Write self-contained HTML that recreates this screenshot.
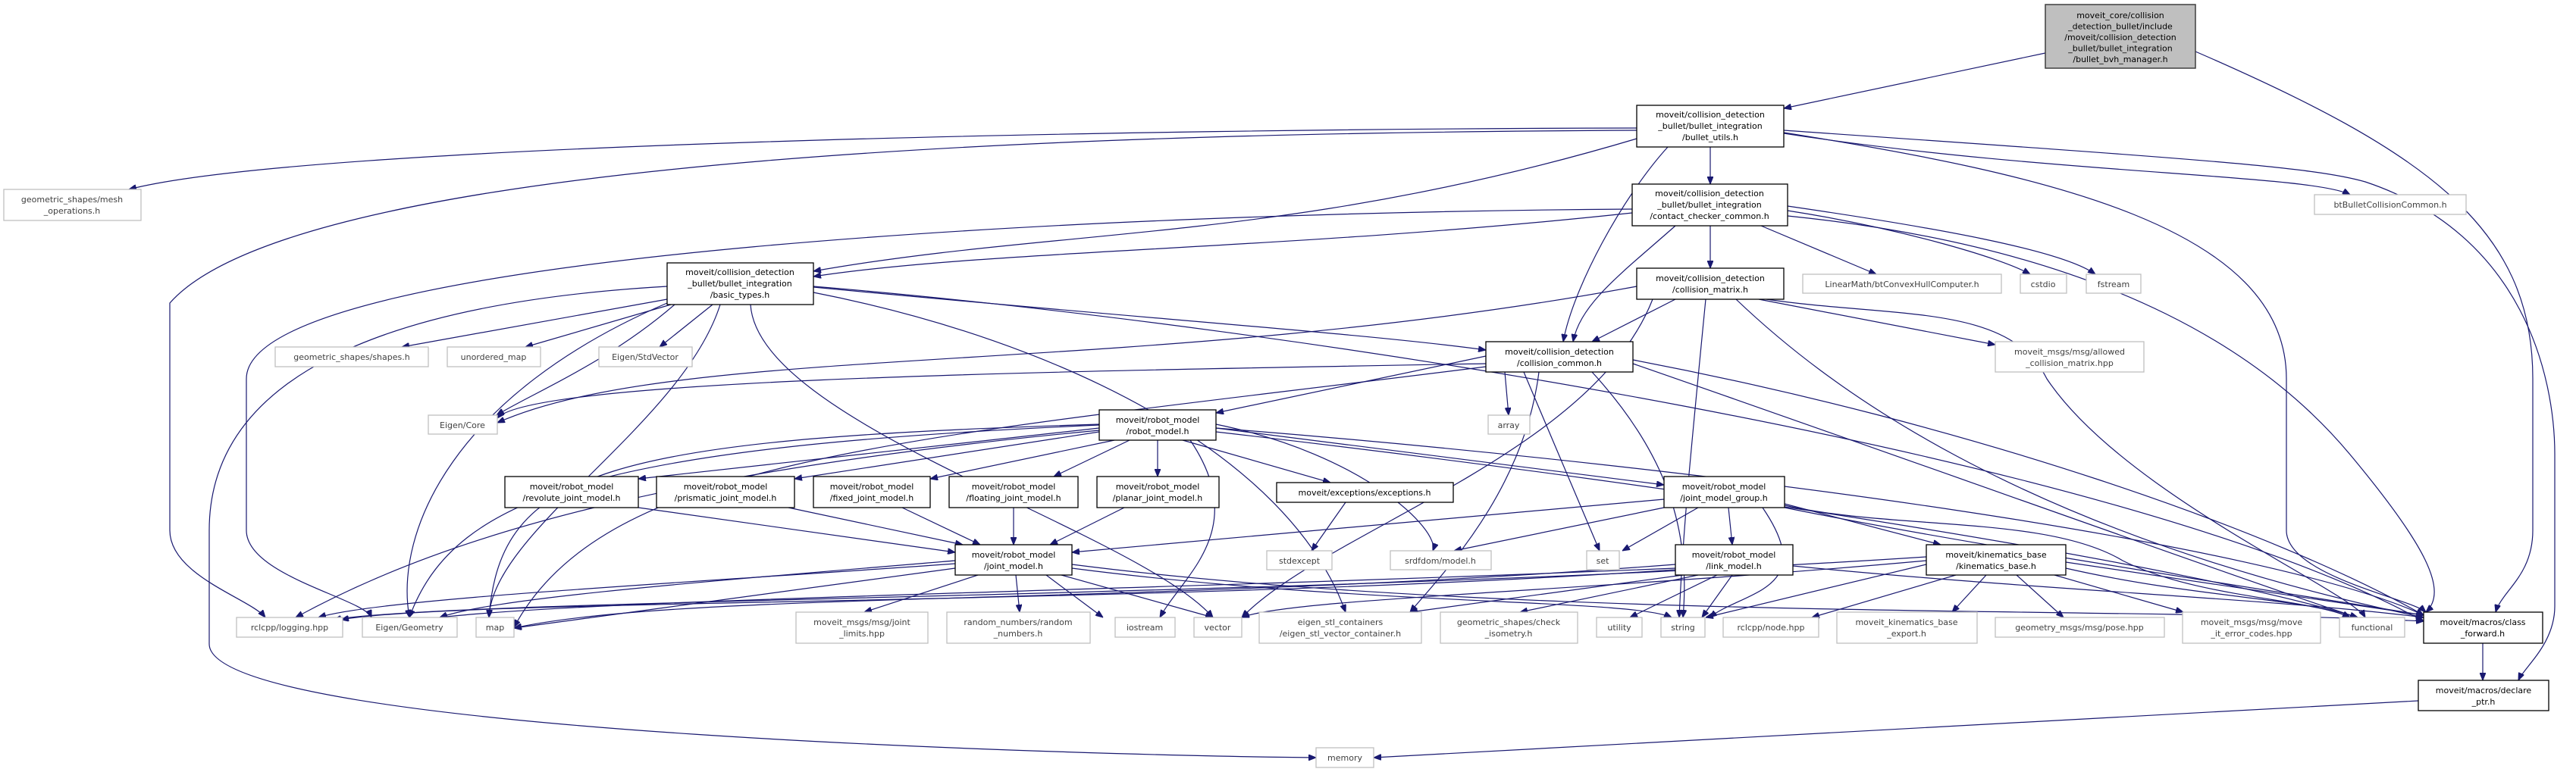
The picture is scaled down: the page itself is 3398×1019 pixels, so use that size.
<!DOCTYPE html>
<html><head><meta charset="utf-8"><style>
html,body{margin:0;padding:0;background:#fff;}
svg{display:block;}
text{font-family:"DejaVu Sans","Liberation Sans",sans-serif;font-size:11px;text-anchor:middle;}
.d rect{fill:#fff;stroke:#000;stroke-width:1.3;}
.e rect{fill:#fff;stroke:#bfbfbf;stroke-width:1.3;}
.e text{fill:#3f3f3f;}
.g rect{fill:#bfbfbf;stroke:#3f3f3f;stroke-width:1.5;}
path{fill:none;stroke:#191970;stroke-width:1.2;}
</style></head><body>
<svg width="3398" height="1019" viewBox="0 0 3398 1019" xmlns="http://www.w3.org/2000/svg">
<defs><marker id="a" viewBox="0 0 10 8" refX="10" refY="4" markerWidth="10" markerHeight="8" markerUnits="userSpaceOnUse" orient="auto"><path d="M0,0 L10,4 L0,8 z" style="fill:#191970;stroke:#191970;stroke-width:1"/></marker></defs>
<g marker-end="url(#a)">
<path d="M2698,70 L2353,143"/>
<path d="M2896,68 C3200,200 3341,300 3341,500 L3341,700 C3341,760 3300,780 3292,808"/>
<path d="M2353,172 C2900,210 3050,220 3120,240 C3330,310 3370,500 3370,600 L3370,800 C3370,850 3330,880 3322,898"/>
<path d="M2353,175 C2700,230 3016,300 3016,500 L3016,700 C3016,760 3180,790 3200,808"/>
<path d="M2353,176 C2700,230 3050,230 3100,257"/>
<path d="M2200,194 C2140,260 2075,380 2062,451"/>
<path d="M2256,194 L2256,243"/>
<path d="M2159,183 C1700,320 1400,300 1073,358"/>
<path d="M2159,169 C1500,170 400,190 170,250"/>
<path d="M2159,172 C1500,175 400,200 224,400 L224,700 C224,760 330,790 350,815"/>
<path d="M2153,276 C1500,280 325,330 325,500 L325,700 C325,760 480,790 490,815"/>
<path d="M2153,281 C1700,330 1300,330 1073,365"/>
<path d="M2210,298 C2140,360 2085,400 2075,451"/>
<path d="M2256,298 L2256,354"/>
<path d="M2323,298 L2475,362"/>
<path d="M2358,278 C2500,300 2640,340 2678,362"/>
<path d="M2358,272 C2550,300 2720,330 2764,362"/>
<path d="M2358,285 C2800,330 3000,480 3100,600 C3200,720 3230,780 3200,808"/>
<path d="M880,395 L530,458"/>
<path d="M885,402 L693,458"/>
<path d="M940,402 L870,458"/>
<path d="M880,378 C500,400 276,500 276,700 L276,850 C276,970 1500,998 1736,1000"/>
<path d="M890,402 C800,480 700,520 655,548"/>
<path d="M880,400 C600,520 520,700 540,815"/>
<path d="M950,402 C900,560 650,700 645,815"/>
<path d="M990,402 C1000,560 1500,700 1600,815"/>
<path d="M1073,379 C1500,420 1800,440 1960,462"/>
<path d="M1073,378 C1700,430 2800,600 3197,820"/>
<path d="M1073,386 C1400,450 1700,600 1775,808"/>
<path d="M2210,395 L2100,451"/>
<path d="M2159,378 C1500,500 900,450 656,558"/>
<path d="M2250,395 C2230,600 2220,700 2215,815"/>
<path d="M2180,395 C2100,600 1750,700 1638,815"/>
<path d="M2320,395 L2632,455"/>
<path d="M2330,395 C2500,420 2650,400 2700,500 C2800,650 3100,780 3120,815"/>
<path d="M2290,395 C2400,500 2650,700 3197,815"/>
<path d="M1960,470 L1604,545"/>
<path d="M1960,480 C1400,490 700,500 656,552"/>
<path d="M1985,491 L1990,548"/>
<path d="M2010,491 L2110,727"/>
<path d="M2100,491 C2200,600 2230,700 2220,815"/>
<path d="M1960,484 C1200,580 800,600 678,828"/>
<path d="M2154,480 C2500,600 3000,780 3110,815"/>
<path d="M2030,491 C2010,650 1900,760 1860,808"/>
<path d="M2154,475 C2600,560 3000,700 3197,812"/>
<path d="M1450,565 L842,632"/>
<path d="M1450,570 L1048,632"/>
<path d="M1470,581 L1227,632"/>
<path d="M1490,581 L1390,629"/>
<path d="M1527,581 L1527,629"/>
<path d="M1560,581 L1755,637"/>
<path d="M1604,565 L2195,640"/>
<path d="M1604,560 C1800,600 1900,700 1890,727"/>
<path d="M1570,581 C1650,700 1560,760 1530,815"/>
<path d="M1450,568 C900,620 600,700 390,815"/>
<path d="M1450,561 C800,590 600,650 540,815"/>
<path d="M1450,560 C800,580 660,620 645,815"/>
<path d="M1604,565 C2300,620 3000,720 3197,812"/>
<path d="M1604,570 C2300,650 2900,750 3110,815"/>
<path d="M842,670 L1260,729"/>
<path d="M1040,670 L1270,719"/>
<path d="M1190,670 L1293,719"/>
<path d="M1337,670 L1337,719"/>
<path d="M1483,670 L1385,719"/>
<path d="M1775,663 L1730,727"/>
<path d="M2195,659 L1414,729"/>
<path d="M2195,670 L1918,727"/>
<path d="M2240,670 L2140,727"/>
<path d="M2280,670 L2285,719"/>
<path d="M2354,665 L2560,719"/>
<path d="M2325,670 C2400,780 2300,780 2255,815"/>
<path d="M2354,670 C2600,720 3000,780 3197,812"/>
<path d="M2354,667 C2500,700 2700,680 2800,740 C2900,790 3050,790 3100,815"/>
<path d="M1260,744 C900,770 500,790 420,815"/>
<path d="M1260,740 C900,770 650,790 580,815"/>
<path d="M1260,750 L678,829"/>
<path d="M1290,759 L1140,808"/>
<path d="M1340,759 L1345,808"/>
<path d="M1380,759 L1455,815"/>
<path d="M1400,759 L1600,815"/>
<path d="M1414,745 C2000,820 2800,800 3197,820"/>
<path d="M1414,750 C1800,800 2150,790 2205,815"/>
<path d="M2210,745 C1500,800 900,780 678,829"/>
<path d="M2210,750 C1500,780 800,790 580,815"/>
<path d="M2210,752 C1500,800 600,790 450,818"/>
<path d="M2220,759 L1860,808"/>
<path d="M2240,759 L2005,808"/>
<path d="M2265,759 L2150,815"/>
<path d="M2285,759 L2245,815"/>
<path d="M2365,747 C2700,780 3000,790 3197,815"/>
<path d="M2580,759 L2390,815"/>
<path d="M2620,759 L2575,808"/>
<path d="M2660,759 L2722,815"/>
<path d="M2710,759 L2880,808"/>
<path d="M2725,750 C2900,790 3050,790 3100,815"/>
<path d="M2725,742 L3197,812"/>
<path d="M2541,745 L2250,815"/>
<path d="M2541,740 C2100,780 1700,790 1638,815"/>
<path d="M2541,735 C1700,790 600,790 440,818"/>
<path d="M3275,849 L3275,898"/>
<path d="M3190,925 L1812,1000"/>
</g>

<g class="g"><rect x="2698" y="6" width="198" height="84"/><text x="2797" y="24">moveit_core/collision</text><text x="2797" y="38.5">_detection_bullet/include</text><text x="2797" y="53">/moveit/collision_detection</text><text x="2797" y="67.5">_bullet/bullet_integration</text><text x="2797" y="82">/bullet_bvh_manager.h</text></g>

<g class="d">
<rect x="2159" y="139" width="194" height="55"/><text x="2256" y="155">moveit/collision_detection</text><text x="2256" y="170">_bullet/bullet_integration</text><text x="2256" y="185">/bullet_utils.h</text>
<rect x="2153" y="243" width="205" height="55"/><text x="2255" y="259">moveit/collision_detection</text><text x="2255" y="274">_bullet/bullet_integration</text><text x="2255" y="289">/contact_checker_common.h</text>
<rect x="2159" y="354" width="194" height="41"/><text x="2256" y="371">moveit/collision_detection</text><text x="2256" y="386">/collision_matrix.h</text>
<rect x="880" y="347" width="193" height="55"/><text x="976" y="363">moveit/collision_detection</text><text x="976" y="378">_bullet/bullet_integration</text><text x="976" y="393">/basic_types.h</text>
<rect x="1960" y="451" width="194" height="40"/><text x="2057" y="468">moveit/collision_detection</text><text x="2057" y="483">/collision_common.h</text>
<rect x="1450" y="541" width="154" height="40"/><text x="1527" y="558">moveit/robot_model</text><text x="1527" y="573">/robot_model.h</text>
<rect x="666" y="629" width="176" height="41"/><text x="754" y="646">moveit/robot_model</text><text x="754" y="661">/revolute_joint_model.h</text>
<rect x="866" y="629" width="182" height="41"/><text x="957" y="646">moveit/robot_model</text><text x="957" y="661">/prismatic_joint_model.h</text>
<rect x="1073" y="629" width="154" height="41"/><text x="1150" y="646">moveit/robot_model</text><text x="1150" y="661">/fixed_joint_model.h</text>
<rect x="1252" y="629" width="170" height="41"/><text x="1337" y="646">moveit/robot_model</text><text x="1337" y="661">/floating_joint_model.h</text>
<rect x="1447" y="629" width="161" height="41"/><text x="1527" y="646">moveit/robot_model</text><text x="1527" y="661">/planar_joint_model.h</text>
<rect x="1684" y="637" width="233" height="26"/><text x="1800" y="654">moveit/exceptions/exceptions.h</text>
<rect x="2195" y="629" width="159" height="41"/><text x="2274" y="646">moveit/robot_model</text><text x="2274" y="661">/joint_model_group.h</text>
<rect x="1260" y="719" width="154" height="40"/><text x="1337" y="736">moveit/robot_model</text><text x="1337" y="751">/joint_model.h</text>
<rect x="2210" y="719" width="155" height="40"/><text x="2287" y="736">moveit/robot_model</text><text x="2287" y="751">/link_model.h</text>
<rect x="2541" y="719" width="184" height="40"/><text x="2633" y="736">moveit/kinematics_base</text><text x="2633" y="751">/kinematics_base.h</text>
<rect x="3197" y="808" width="157" height="41"/><text x="3275" y="825">moveit/macros/class</text><text x="3275" y="840">_forward.h</text>
<rect x="3190" y="898" width="172" height="40"/><text x="3276" y="915">moveit/macros/declare</text><text x="3276" y="930">_ptr.h</text>
</g>

<g class="e">
<rect x="5" y="250" width="181" height="41"/><text x="95" y="267">geometric_shapes/mesh</text><text x="95" y="282">_operations.h</text>
<rect x="363" y="458" width="202" height="26"/><text x="464" y="475">geometric_shapes/shapes.h</text>
<rect x="590" y="458" width="123" height="26"/><text x="651" y="475">unordered_map</text>
<rect x="790" y="458" width="123" height="26"/><text x="851" y="475">Eigen/StdVector</text>
<rect x="2378" y="362" width="262" height="25"/><text x="2509" y="379">LinearMath/btConvexHullComputer.h</text>
<rect x="2665" y="362" width="61" height="25"/><text x="2695" y="379">cstdio</text>
<rect x="2752" y="362" width="72" height="25"/><text x="2788" y="379">fstream</text>
<rect x="3053" y="257" width="200" height="26"/><text x="3153" y="274">btBulletCollisionCommon.h</text>
<rect x="2632" y="451" width="196" height="40"/><text x="2730" y="468">moveit_msgs/msg/allowed</text><text x="2730" y="483">_collision_matrix.hpp</text>
<rect x="565" y="548" width="91" height="25"/><text x="610" y="565">Eigen/Core</text>
<rect x="1963" y="548" width="55" height="25"/><text x="1990" y="565">array</text>
<rect x="1671" y="727" width="86" height="25"/><text x="1714" y="744">stdexcept</text>
<rect x="1834" y="727" width="133" height="25"/><text x="1900" y="744">srdfdom/model.h</text>
<rect x="2093" y="727" width="43" height="25"/><text x="2114" y="744">set</text>
<rect x="312" y="815" width="140" height="26"/><text x="382" y="832">rclcpp/logging.hpp</text>
<rect x="478" y="815" width="125" height="26"/><text x="540" y="832">Eigen/Geometry</text>
<rect x="628" y="815" width="50" height="26"/><text x="653" y="832">map</text>
<rect x="1050" y="808" width="174" height="41"/><text x="1137" y="825">moveit_msgs/msg/joint</text><text x="1137" y="840">_limits.hpp</text>
<rect x="1249" y="808" width="189" height="41"/><text x="1343" y="825">random_numbers/random</text><text x="1343" y="840">_numbers.h</text>
<rect x="1471" y="815" width="79" height="26"/><text x="1510" y="832">iostream</text>
<rect x="1575" y="815" width="63" height="26"/><text x="1606" y="832">vector</text>
<rect x="1661" y="808" width="214" height="41"/><text x="1768" y="825">eigen_stl_containers</text><text x="1768" y="840">/eigen_stl_vector_container.h</text>
<rect x="1900" y="808" width="181" height="41"/><text x="1990" y="825">geometric_shapes/check</text><text x="1990" y="840">_isometry.h</text>
<rect x="2106" y="815" width="60" height="26"/><text x="2136" y="832">utility</text>
<rect x="2191" y="815" width="58" height="26"/><text x="2220" y="832">string</text>
<rect x="2273" y="815" width="126" height="26"/><text x="2336" y="832">rclcpp/node.hpp</text>
<rect x="2423" y="808" width="185" height="41"/><text x="2515" y="825">moveit_kinematics_base</text><text x="2515" y="840">_export.h</text>
<rect x="2632" y="815" width="223" height="26"/><text x="2743" y="832">geometry_msgs/msg/pose.hpp</text>
<rect x="2879" y="808" width="182" height="41"/><text x="2970" y="825">moveit_msgs/msg/move</text><text x="2970" y="840">_it_error_codes.hpp</text>
<rect x="3086" y="815" width="86" height="26"/><text x="3129" y="832">functional</text>
<rect x="1736" y="987" width="76" height="26"/><text x="1774" y="1004">memory</text>
</g>
</svg>
</body></html>
